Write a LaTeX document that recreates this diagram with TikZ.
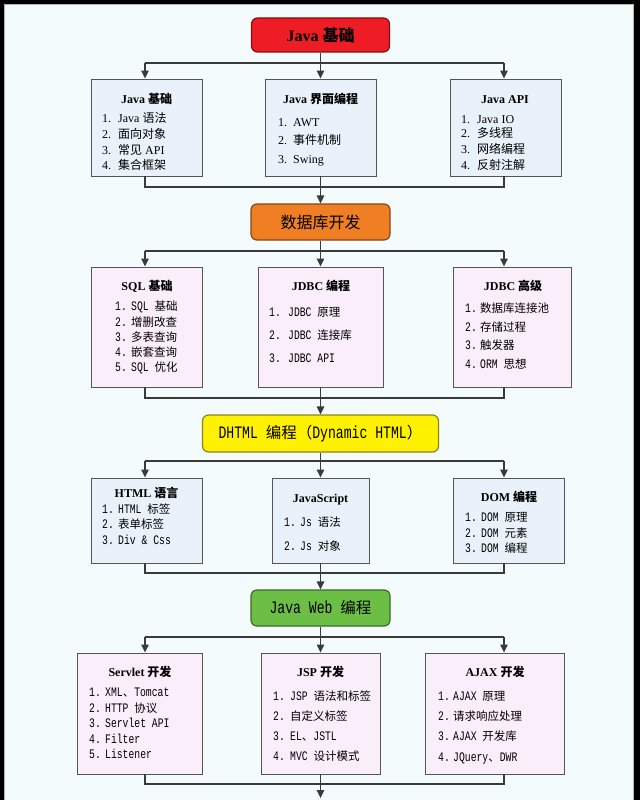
\documentclass[tikz,border=0pt]{standalone}
\usepackage{fontspec}
\setmainfont{Liberation Serif}
\newfontfamily\cjk{Noto Sans CJK SC}
\newfontfamily\monof[FakeStretch=0.75]{Liberation Mono}
\usetikzlibrary{arrows.meta}
\definecolor{bgc}{HTML}{F3FBFC}
\definecolor{redF}{HTML}{EE1C25}
\definecolor{redD}{HTML}{7A1414}
\definecolor{orgF}{HTML}{F07E22}
\definecolor{orgD}{HTML}{85461A}
\definecolor{yelF}{HTML}{FFF200}
\definecolor{yelD}{HTML}{8A8420}
\definecolor{grnF}{HTML}{6DBE45}
\definecolor{grnD}{HTML}{3C6A28}
\definecolor{bluF}{HTML}{E9F2FA}
\definecolor{pnkF}{HTML}{FBEEFB}
\definecolor{boxD}{HTML}{555555}
\definecolor{lnc}{HTML}{3A3A3A}
\newcommand\zh[1]{{\cjk #1}}
\newcommand\zhb[1]{{\cjk\bfseries #1}}
\newcommand\zm[1]{{\cjk\fontsize{11.5}{14}\selectfont #1}}
\newcommand\zl[1]{{\cjk\fontsize{15.5}{18}\selectfont #1}}
\newcommand\itemline[3]{\makebox[#1pt][l]{#2}#3}
\begin{document}
\begin{tikzpicture}[x=1pt,y=-1pt,
  mainbox/.style={draw=#1, rounded corners=6pt, line width=1.2pt, inner sep=0pt, text=black},
  subbox/.style={draw=boxD, fill=#1, line width=0.9pt, inner sep=0pt},
  ln/.style={draw=lnc, line width=1.2pt},
  arr/.style={draw=lnc, line width=1.2pt, -{Triangle[length=8pt,width=7.5pt]}},
  ttl/.style={anchor=base, inner sep=0pt, font=\fontsize{12}{14}\selectfont\bfseries},
  iserif/.style={anchor=base west, inner sep=0pt, font=\fontsize{12}{14}\selectfont},
  imono/.style={anchor=base west, inner sep=0pt, font=\fontsize{13}{14}\selectfont\monof},
]
\useasboundingbox (0,0) rectangle (640,800);
% frame and background
\fill[black] (0,0) rectangle (640,800);
\fill[bgc] (5,5) rectangle (633,800);
\draw[gray!60, line width=1pt] (4.5,801) -- (4.5,4.5) -- (633.5,4.5) -- (633.5,801);

% column and level coordinates
\coordinate (colL) at (145,0);
\coordinate (colR) at (504,0);
\coordinate (br1) at (0,63);
\coordinate (jn1) at (0,187);
\coordinate (br2) at (0,251);
\coordinate (jn2) at (0,398);
\coordinate (br3) at (0,461);
\coordinate (jn3) at (0,573);
\coordinate (br4) at (0,637);
\coordinate (jn4) at (0,784);
\coordinate (endpt) at (320.5,798);

% ---------- main boxes ----------
\node[mainbox=redD, fill=redF, minimum width=138pt, minimum height=34pt] (M1) at (320.5,35)
  {\fontsize{16}{18}\selectfont\bfseries Java \zhb{基础}};
\node[mainbox=orgD, fill=orgF, minimum width=139pt, minimum height=36pt] (M2) at (320.5,222)
  {\fontsize{16}{18}\selectfont\zh{数据库开发}};
\node[mainbox=yelD, fill=yelF, minimum width=236pt, minimum height=37pt] (M3) at (320.5,433.5)
  {\fontsize{17.5}{18}\selectfont\monof DHTML \zl{编程（}Dynamic HTML\zl{）}};
\node[mainbox=grnD, fill=grnF, minimum width=139pt, minimum height=36pt] (M4) at (320.5,608)
  {\fontsize{17.5}{18}\selectfont\monof Java Web \zl{编程}};

% ---------- sub boxes ----------
\node[subbox=bluF, minimum width=111pt, minimum height=97pt] (l1) at (146.5,127.5) {};
\node[subbox=bluF, minimum width=111pt, minimum height=97pt] (m1) at (320.5,127.5) {};
\node[subbox=bluF, minimum width=111pt, minimum height=97pt] (r1) at (505.5,127.5) {};

\node[subbox=pnkF, minimum width=111pt, minimum height=120pt] (l2) at (146.5,327) {};
\node[subbox=pnkF, minimum width=125pt, minimum height=120pt] (m2) at (320.5,327) {};
\node[subbox=pnkF, minimum width=118pt, minimum height=120pt] (r2) at (512,327) {};

\node[subbox=bluF, minimum width=111pt, minimum height=85pt] (l3) at (146.5,520.5) {};
\node[subbox=bluF, minimum width=97pt, minimum height=85pt] (m3) at (320.5,520.5) {};
\node[subbox=bluF, minimum width=111pt, minimum height=85pt] (r3) at (508.5,520.5) {};

\node[subbox=pnkF, minimum width=125pt, minimum height=121pt] (l4) at (139.5,713.5) {};
\node[subbox=pnkF, minimum width=119pt, minimum height=121pt] (m4) at (320.5,713.5) {};
\node[subbox=pnkF, minimum width=139pt, minimum height=121pt] (r4) at (494.5,713.5) {};

% ---------- connectors ----------
% level 1
\draw[arr] (M1.south) -- (M1.south |- m1.north);
\draw[ln] (colL |- br1) -- (colR |- br1);
\draw[arr] (colL |- br1) -- (colL |- l1.north);
\draw[arr] (colR |- br1) -- (colR |- r1.north);
\draw[ln] (colL |- l1.south) -- (colL |- jn1) -- (colR |- jn1) -- (colR |- r1.south);
\draw[arr] (m1.south) -- (M2.north);
% level 2
\draw[arr] (M2.south) -- (M2.south |- m2.north);
\draw[ln] (colL |- br2) -- (colR |- br2);
\draw[arr] (colL |- br2) -- (colL |- l2.north);
\draw[arr] (colR |- br2) -- (colR |- r2.north);
\draw[ln] (colL |- l2.south) -- (colL |- jn2) -- (colR |- jn2) -- (colR |- r2.south);
\draw[arr] (m2.south) -- (M3.north);
% level 3
\draw[arr] (M3.south) -- (M3.south |- m3.north);
\draw[ln] (colL |- br3) -- (colR |- br3);
\draw[arr] (colL |- br3) -- (colL |- l3.north);
\draw[arr] (colR |- br3) -- (colR |- r3.north);
\draw[ln] (colL |- l3.south) -- (colL |- jn3) -- (colR |- jn3) -- (colR |- r3.south);
\draw[arr] (m3.south) -- (M4.north);
% level 4
\draw[arr] (M4.south) -- (M4.south |- m4.north);
\draw[ln] (colL |- br4) -- (colR |- br4);
\draw[arr] (colL |- br4) -- (colL |- l4.north);
\draw[arr] (colR |- br4) -- (colR |- r4.north);
\draw[ln] (colL |- l4.south) -- (colL |- jn4) -- (colR |- jn4) -- (colR |- r4.south);
\draw[arr] (m4.south) -- (endpt);

% ---------- row 1 texts ----------
\node[ttl] (l1t) at (146.5,103) {Java \zhb{基础}};
\node[iserif] (l1a) at (102,122) {\itemline{16}{1.}{Java \zh{语法}}};
\node[iserif] (l1b) at (102,138) {\itemline{16}{2.}{\zh{面向对象}}};
\node[iserif] (l1c) at (102,154) {\itemline{16}{3.}{\zh{常见} API}};
\node[iserif] (l1d) at (102,169) {\itemline{16}{4.}{\zh{集合框架}}};

\node[ttl] (m1t) at (320.5,103) {Java \zhb{界面编程}};
\node[iserif] (m1a) at (278,126) {\itemline{15}{1.}{AWT}};
\node[iserif] (m1b) at (278,144) {\itemline{15}{2.}{\zh{事件机制}}};
\node[iserif] (m1c) at (278,163) {\itemline{15}{3.}{Swing}};

\node[ttl] (r1t) at (505,103) {Java API};
\node[iserif] (r1a) at (461,123) {\itemline{16}{1.}{Java IO}};
\node[iserif] (r1b) at (461,137) {\itemline{16}{2.}{\zh{多线程}}};
\node[iserif] (r1c) at (461,153) {\itemline{16}{3.}{\zh{网络编程}}};
\node[iserif] (r1d) at (461,169) {\itemline{16}{4.}{\zh{反射注解}}};

% ---------- row 2 texts ----------
\node[ttl] (l2t) at (147,290) {SQL \zhb{基础}};
\node[imono] (l2a) at (115,310) {\itemline{16}{1.}{SQL \zm{基础}}};
\node[imono] (l2b) at (115,326) {\itemline{16}{2.}{\zm{增删改查}}};
\node[imono] (l2c) at (115,341) {\itemline{16}{3.}{\zm{多表查询}}};
\node[imono] (l2d) at (115,356) {\itemline{16}{4.}{\zm{嵌套查询}}};
\node[imono] (l2e) at (115,371) {\itemline{16}{5.}{SQL \zm{优化}}};

\node[ttl] (m2t) at (321,290) {JDBC \zhb{编程}};
\node[imono] (m2a) at (269,316) {\itemline{19}{1.}{JDBC \zm{原理}}};
\node[imono] (m2b) at (269,339) {\itemline{19}{2.}{JDBC \zm{连接库}}};
\node[imono] (m2c) at (269,362) {\itemline{19}{3.}{JDBC API}};

\node[ttl] (r2t) at (513,290) {JDBC \zhb{高级}};
\node[imono] (r2a) at (465,312) {\itemline{15}{1.}{\zm{数据库连接池}}};
\node[imono] (r2b) at (465,331) {\itemline{15}{2.}{\zm{存储过程}}};
\node[imono] (r2c) at (465,349) {\itemline{15}{3.}{\zm{触发器}}};
\node[imono] (r2d) at (465,368) {\itemline{15}{4.}{ORM \zm{思想}}};

% ---------- row 3 texts ----------
\node[ttl] (l3t) at (146.5,497) {HTML \zhb{语言}};
\node[imono] (l3a) at (102,513) {\itemline{16}{1.}{HTML \zm{标签}}};
\node[imono] (l3b) at (102,528) {\itemline{16}{2.}{\zm{表单标签}}};
\node[imono] (l3c) at (102,544) {\itemline{16}{3.}{Div \& Css}};

\node[ttl] (m3t) at (320.5,502) {JavaScript};
\node[imono] (m3a) at (284,526) {\itemline{16}{1.}{Js \zm{语法}}};
\node[imono] (m3b) at (284,550) {\itemline{16}{2.}{Js \zm{对象}}};

\node[ttl] (r3t) at (509,501) {DOM \zhb{编程}};
\node[imono] (r3a) at (465,521) {\itemline{16}{1.}{DOM \zm{原理}}};
\node[imono] (r3b) at (465,537) {\itemline{16}{2.}{DOM \zm{元素}}};
\node[imono] (r3c) at (465,552) {\itemline{16}{3.}{DOM \zm{编程}}};

% ---------- row 4 texts ----------
\node[ttl] (l4t) at (140,676) {Servlet \zhb{开发}};
\node[imono] (l4a) at (89,696) {\itemline{16}{1.}{XML\zm{、}Tomcat}};
\node[imono] (l4b) at (89,712) {\itemline{16}{2.}{HTTP \zm{协议}}};
\node[imono] (l4c) at (89,727) {\itemline{16}{3.}{Servlet API}};
\node[imono] (l4d) at (89,743) {\itemline{16}{4.}{Filter}};
\node[imono] (l4e) at (89,758) {\itemline{16}{5.}{Listener}};

\node[ttl] (m4t) at (320.5,676) {JSP \zhb{开发}};
\node[imono] (m4a) at (273,700) {\itemline{17}{1.}{JSP \zm{语法和标签}}};
\node[imono] (m4b) at (273,720) {\itemline{17}{2.}{\zm{自定义标签}}};
\node[imono] (m4c) at (273,740) {\itemline{17}{3.}{EL\zm{、}JSTL}};
\node[imono] (m4d) at (273,760) {\itemline{17}{4.}{MVC \zm{设计模式}}};

\node[ttl] (r4t) at (495,676) {AJAX \zhb{开发}};
\node[imono] (r4a) at (438,700) {\itemline{15}{1.}{AJAX \zm{原理}}};
\node[imono] (r4b) at (438,720) {\itemline{15}{2.}{\zm{请求响应处理}}};
\node[imono] (r4c) at (438,740) {\itemline{15}{3.}{AJAX \zm{开发库}}};
\node[imono] (r4d) at (438,761) {\itemline{15}{4.}{JQuery\zm{、}DWR}};
\end{tikzpicture}
\end{document}
